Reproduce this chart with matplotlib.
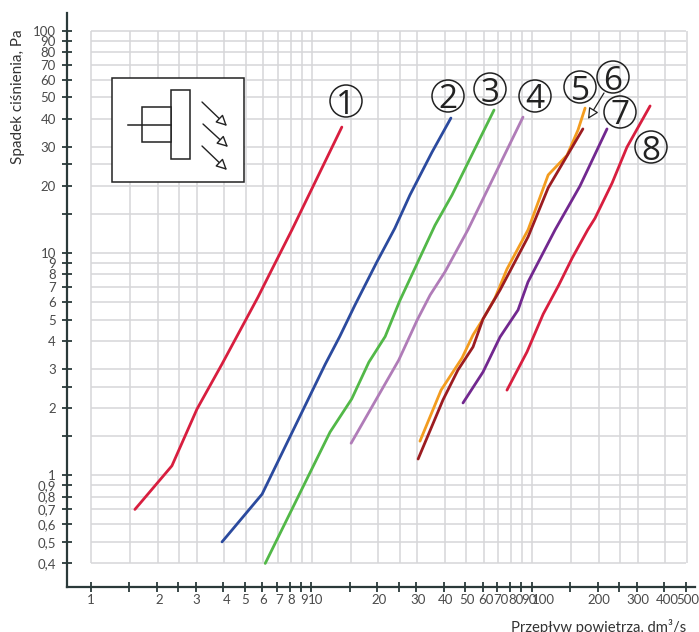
import numpy as np
import matplotlib
matplotlib.use("Agg")
import matplotlib.pyplot as plt
from matplotlib.patches import Circle, Rectangle, FancyArrowPatch
from matplotlib.transforms import ScaledTranslation

W, H = 699, 632

x_ticks = [1, 1.5, 2, 2.5, 3, 4, 5, 6, 7, 8, 9, 10, 15, 20, 25, 30, 40, 50, 60, 70, 80, 90, 100,
           150, 200, 250, 300, 400, 500]
x_labels = ["1", "", "2", "", "3", "4", "5", "6", "7", "8", "9", "10", "", "20", "", "30", "40", "50",
            "60", "70", "80", "90", "100", "", "200", "", "300", "400", "500"]
y_ticks = [0.4, 0.5, 0.6, 0.7, 0.8, 0.9, 1, 1.5, 2, 2.5, 3, 4, 5, 6, 7, 8, 9, 10, 15, 20, 25, 30, 40,
           50, 60, 70, 80, 90, 100]
y_labels = ["0,4", "0,5", "0,6", "0,7", "0,8", "0,9", "1", "", "2", "", "3", "4", "5", "6", "7", "8",
            "9", "10", "", "20", "", "30", "40", "50", "60", "70", "80", "90", "100"]

q1 = [1.59, 2.34, 3.04, 3.95, 5.75, 6.52, 8.2, 13.8]
p1 = [0.70, 1.10, 1.98, 3.16, 6.32, 8.1, 12.7, 36.8]
q2 = [3.95, 6.0, 11.6, 13.5, 15.8, 19.9, 24, 28.1, 35.4, 43.1]
p2 = [0.50, 0.82, 3.15, 4.2, 5.8, 9.1, 12.9, 18.2, 28.4, 40.4]
q3 = [6.2, 12.2, 15.3, 18.3, 21.7, 25.3, 36.5, 43.6, 67.6]
p3 = [0.40, 1.56, 2.2, 3.22, 4.2, 6.1, 13.3, 18.2, 43.9]
q4 = [15.2, 25, 30.3, 34.7, 40.5, 51.5, 91.5]
p4 = [1.39, 3.29, 4.98, 6.46, 8.2, 12.7, 40.8]
q5 = [31.2, 38.9, 48.4, 54.3, 60.3, 68.3, 77.4, 96.5, 119, 145, 162.5, 175]
p5 = [1.42, 2.41, 3.36, 4.27, 5.04, 6.26, 8.45, 12.7, 22.4, 27.5, 35.7, 44.8]
q6 = [30.6, 39.7, 46.4, 54.3, 60.3, 72, 96.5, 119, 171]
p6 = [1.18, 2.18, 2.97, 3.77, 5.04, 6.8, 11.8, 19.6, 36.1]
q7 = [48.9, 60.3, 72, 86.9, 96.4, 128, 166, 220]
p7 = [2.11, 2.91, 4.18, 5.53, 7.39, 12.7, 20, 36.1]
q8 = [77.4, 95.4, 113, 133, 153, 180, 194, 232, 271, 345]
p8 = [2.41, 3.58, 5.3, 7.16, 9.48, 12.7, 14.3, 20.6, 29.9, 45.8]

curves = [(q1, p1, "#d81e3f"), (q2, p2, "#2b4a9e"), (q3, p3, "#52b848"), (q4, p4, "#b07cb8"),
          (q5, p5, "#f39c1f"), (q6, p6, "#9c1c20"), (q7, p7, "#72288f"), (q8, p8, "#d81e3f")]

numbers = ["1", "2", "3", "4", "5", "6", "7", "8"]
number_pos = [(346, 101), (448, 96), (490, 89), (535, 96), (580, 87), (613, 77), (620, 112), (651, 147)]

# the printed x labels drift right of their ticks, in pixels
x_label_shift = [0, 0, 2, 0, 1, 3, 1, 1, 2, 2, 3, 5, 0, 2, 0, 2, 2, 2, 3, 4, 6, 8, 12, 0, 1, 0, 1, 3, 2]

plt.rcParams["font.family"] = ["Lato", "DejaVu Sans"]
fig = plt.figure(figsize=(W / 100, H / 100), dpi=100)

# axes box in pixels, limits worked out from where the ticks sit
left, right, top, bottom = 66.5, 695, 13, 587
ax = fig.add_axes([left / W, 1 - bottom / H, (right - left) / W, (bottom - top) / H])
ax.set_xscale("log")
ax.set_yscale("log")
ax.set_xlim(10 ** ((left - 90.5) / 220.5), 10 ** ((right - 90.5) / 220.5))
ax.set_ylim(10 ** ((475 - bottom) / 222.2), 10 ** ((475 - top) / 222.2))

ax.hlines(y_ticks, 1.01, 500, color="#d6d6d9", lw=1.1, zorder=1)
ax.vlines(np.array(x_ticks) * 1.01, 0.4, 100, color="#d6d6d9", lw=1.1, zorder=1)

for q, p, c in curves:
  ax.plot(q, p, color=c, lw=2.0, solid_capstyle="round", solid_joinstyle="round", zorder=3)

ax.set_xticks(x_ticks, x_labels)
ax.set_yticks(y_ticks, y_labels)
ax.minorticks_off()
ax.tick_params(axis="both", direction="inout", length=7.5, width=1.3, color="#2b3a3a",
               labelcolor="#4a4a4a", labelsize=9.5)
ax.tick_params(axis="x", pad=1.5)
ax.tick_params(axis="y", pad=4)
for label, dx in zip(ax.get_xticklabels(), x_label_shift):
  label.set_transform(label.get_transform() + ScaledTranslation(dx / 100, 0, fig.dpi_scale_trans))
for s in ["top", "right"]:
  ax.spines[s].set_visible(False)
for s in ["left", "bottom"]:
  ax.spines[s].set_linewidth(1.6)
  ax.spines[s].set_color("#2b3a3a")

# overlay in pixel coordinates for the symbol box and circled numbers
ov = fig.add_axes([0, 0, 1, 1])
ov.set_xlim(0, W)
ov.set_ylim(H, 0)
ov.axis("off")
ov.patch.set_alpha(0)

ink = "#222222"
ov.add_patch(Rectangle((112, 78), 132, 104, fc="white", ec=ink, lw=1.1))
ov.add_patch(Rectangle((171, 90), 19, 69, fc="white", ec=ink, lw=1.1))
ov.add_patch(Rectangle((142, 107), 29, 35, fc="white", ec=ink, lw=1.1))
ov.plot([128, 171], [125, 125], color=ink, lw=1.1)
arrow = "-|>,head_length=5,head_width=2.5"
for a, b in [((202, 102), (227, 126)), ((203, 124), (228, 147)), ((202, 146), (227, 170))]:
  ov.add_patch(FancyArrowPatch(a, b, arrowstyle=arrow, mutation_scale=1.3, fc="white", ec=ink, lw=1.0,
                               shrinkA=0, shrinkB=0))
ov.add_patch(FancyArrowPatch((604, 93), (588, 119), arrowstyle=arrow, mutation_scale=1.3, fc="white", ec=ink,
                             lw=0.9, shrinkA=0, shrinkB=0))

for n, (cx, cy) in zip(numbers, number_pos):
  ov.add_patch(Circle((cx, cy), 16, fc="none", ec=ink, lw=1.1))
  ov.text(cx, cy, n, ha="center", va="center_baseline", fontsize=24, color=ink, family="Open Sans")

ov.text(18, 97, "Spadek ciśnienia, Pa", rotation=90, ha="center", va="center", fontsize=11, color="#333333")
ov.text(686, 627, "Przepływ powietrza, dm³/s", ha="right", va="center", fontsize=10.7, color="#333333")

fig.savefig("out.png", dpi=100)
